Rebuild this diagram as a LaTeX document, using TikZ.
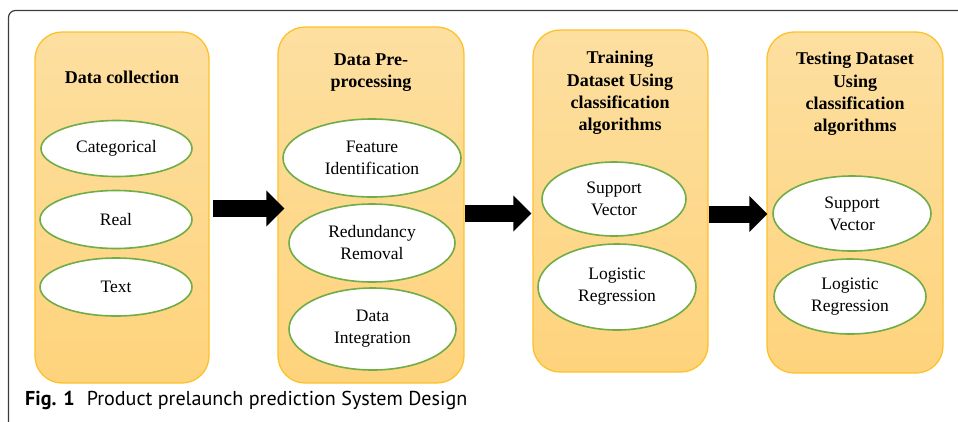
\documentclass[tikz,border=0pt]{standalone}
\usepackage{fontspec}
\setmainfont{Liberation Serif}
\newfontfamily\capfont{PT Sans}
\usetikzlibrary{shapes.geometric,arrows.meta}
\definecolor{boxtop}{HTML}{FDDFA0}
\definecolor{boxbot}{HTML}{FED37C}
\definecolor{boxline}{HTML}{FDC12A}
\definecolor{ovalline}{HTML}{70AD47}
\definecolor{framegray}{HTML}{3C3C3C}
\begin{document}
\begin{tikzpicture}[x=1pt,y=-1pt,
  stage/.style={draw=boxline, line width=1.3pt, rounded corners=27pt,
    top color=boxtop, bottom color=boxbot, inner sep=0pt},
  oval/.style={ellipse, draw=ovalline, line width=1.6pt, fill=white,
    inner sep=0pt, align=center, font=\fontsize{17.5}{22}\selectfont},
  heading/.style={align=center, inner sep=0pt,
    font=\bfseries\fontsize{18}{22.3}\selectfont},
  blockarrow/.style={line width=17pt, -{Triangle[length=18pt,width=35pt]}},
  frameline/.style={draw=framegray, line width=1.2pt, rounded corners=7pt}]
\useasboundingbox (0,0) rectangle (958,421);

% outer figure frame
\draw[frameline] (8.5,425) -- (8.5,10.5) -- (962,10.5);

% stage panels
\node[stage, minimum width=174pt, minimum height=351pt] (b1) at (122,207.5) {};
\node[stage, minimum width=186pt, minimum height=356pt] (b2) at (371,205) {};
\node[stage, minimum width=175pt, minimum height=342pt] (b3) at (620.5,201) {};
\node[stage, minimum width=176pt, minimum height=341pt] (b4) at (855,202.5) {};

% panel headings
\node[heading] (t1) at (122,77) {Data collection};
\node[heading] (t2) at (371,72.5) {Data Pre-\\processing};
\node[heading] (t3) at (620,93) {Training\\Dataset Using\\classification\\algorithms};
\node[heading] (t4) at (855,94) {Testing Dataset\\Using\\classification\\algorithms};

% data collection items
\node[oval, minimum width=151pt, minimum height=56pt] (c1) at (116.5,148.5) {Categorical};
\node[oval, minimum width=152pt, minimum height=58pt] (c2) at (116,219.5) {Real};
\node[oval, minimum width=152pt, minimum height=58pt] (c3) at (116,287) {Text};

% pre-processing items
\node[oval, minimum width=178pt, minimum height=78pt] (p1) at (372,158) {Feature\\Identification};
\node[oval, minimum width=166pt, minimum height=78pt] (p2) at (372,243) {Redundancy\\Removal};
\node[oval, minimum width=167pt, minimum height=82pt] (p3) at (372.5,329) {Data\\Integration};

% training items
\node[oval, minimum width=144pt, minimum height=74pt] (r1) at (614,199) {Support\\Vector};
\node[oval, minimum width=158pt, minimum height=86pt] (r2) at (617,287) {Logistic\\Regression};

% testing items
\node[oval, minimum width=158pt, minimum height=75pt] (s1) at (852,213.5) {Support\\Vector};
\node[oval, minimum width=152pt, minimum height=75pt] (s2) at (850,296.5) {Logistic\\Regression};

% flow arrows between stages
\coordinate (a1) at ([xshift=3pt,yshift=-1pt]b1.east);
\coordinate (a2) at ([yshift=-8.5pt]b2.east);
\coordinate (a3) at ([yshift=-13pt]b3.east);
\draw[blockarrow] (a1) -- ([xshift=7pt]b2.west |- a1);
\draw[blockarrow] (a2) -- ([xshift=-1pt]b3.west |- a2);
\draw[blockarrow] (a3) -- ([xshift=1pt]b4.west |- a3);

% caption
\node[anchor=base west, inner sep=0pt, font=\capfont\fontsize{20.1}{22}\selectfont]
  (cap) at (25,405) {\textbf{Fig. 1}\hspace{0.6em}Product prelaunch prediction System Design};
\end{tikzpicture}
\end{document}
